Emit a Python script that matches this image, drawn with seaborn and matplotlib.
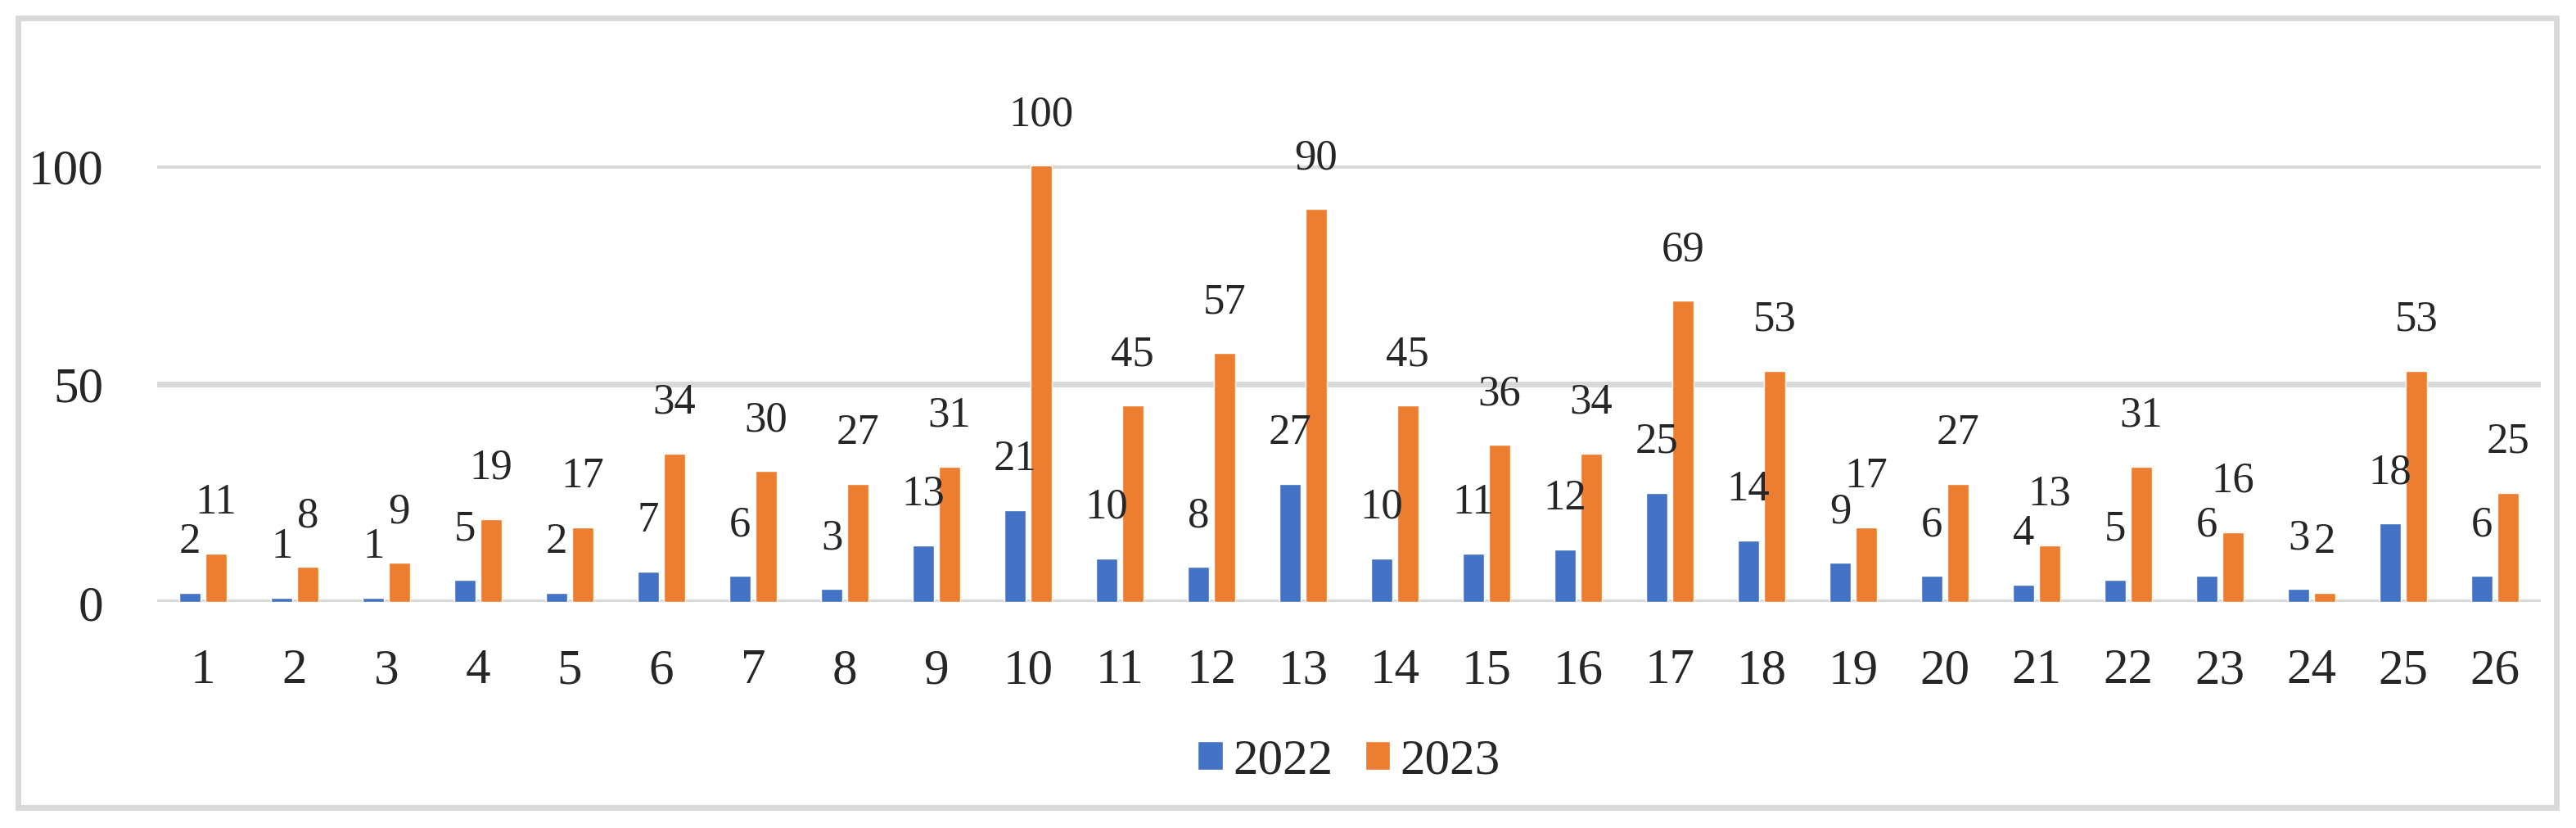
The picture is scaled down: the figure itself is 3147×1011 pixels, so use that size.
import pandas as pd
import matplotlib.pyplot as plt
import seaborn as sns
from matplotlib.patches import Rectangle

# Datos
categorias = [str(i) for i in range(1, 27)]
valores_2022 = [2, 1, 1, 5, 2, 7, 6, 3, 13, 21, 10, 8, 27, 10, 11, 12, 25, 14, 9, 6, 4, 5, 6, 3, 18, 6]
valores_2023 = [11, 8, 9, 19, 17, 34, 30, 27, 31, 100, 45, 57, 90, 45, 36, 34, 69, 53, 17, 27, 13, 31, 16, 2, 53, 25]
series = ["2022", "2023"]
colores = ["#4472C4", "#ED7D31"]

df = pd.DataFrame({
    "categoria": categorias * 2,
    "anio": [series[0]] * len(categorias) + [series[1]] * len(categorias),
    "valor": valores_2022 + valores_2023,
})

sns.set_style("white")
plt.rcParams["font.family"] = ["Liberation Serif", "DejaVu Serif"]

fig = plt.figure(figsize=(31.47, 10.12), dpi=100)
ax = fig.add_axes([0.0610, 0.2727, 0.9253, 0.5267])

sns.barplot(data=df, x="categoria", y="valor", hue="anio", order=categorias,
            hue_order=series, palette=colores, width=0.563, gap=0.184,
            saturation=1, ax=ax, zorder=3)

# Ejes y rejilla
ax.set_ylim(0, 100)
ax.set_yticks([0, 50, 100])
ax.set_xlim(-0.5, len(categorias) - 0.5)
ax.grid(axis="y", color="#D9D9D9", linewidth=5, zorder=0)
ax.set_axisbelow(True)
for s in ax.spines.values():
    s.set_visible(False)
ax.set_xlabel("")
ax.set_ylabel("")
ax.tick_params(axis="y", length=0, pad=47, labelsize=44)
ax.tick_params(axis="x", length=0, pad=40, labelsize=44)

# Etiquetas de valores
for cont in ax.containers:
    for bar in cont:
        h = bar.get_height()
        ax.annotate(f"{int(h)}", (bar.get_x() + bar.get_width() / 2, h),
                    xytext=(0, 36), textcoords="offset points",
                    ha="center", va="baseline", fontsize=38,
                    annotation_clip=False)

# Leyenda
sns.move_legend(ax, loc="center", bbox_to_anchor=(0.5, -0.364), ncol=2,
                frameon=False, title=None, fontsize=44, handlelength=0.5,
                handleheight=0.5, handletextpad=0.2, columnspacing=0.65)

# Borde del gráfico
fig.patches.append(Rectangle((0.0071, 0.0247), 0.9853, 0.9523, transform=fig.transFigure,
                             fill=False, edgecolor="#D9D9D9", linewidth=5))

fig.savefig("out.png", dpi=100, facecolor="white")
